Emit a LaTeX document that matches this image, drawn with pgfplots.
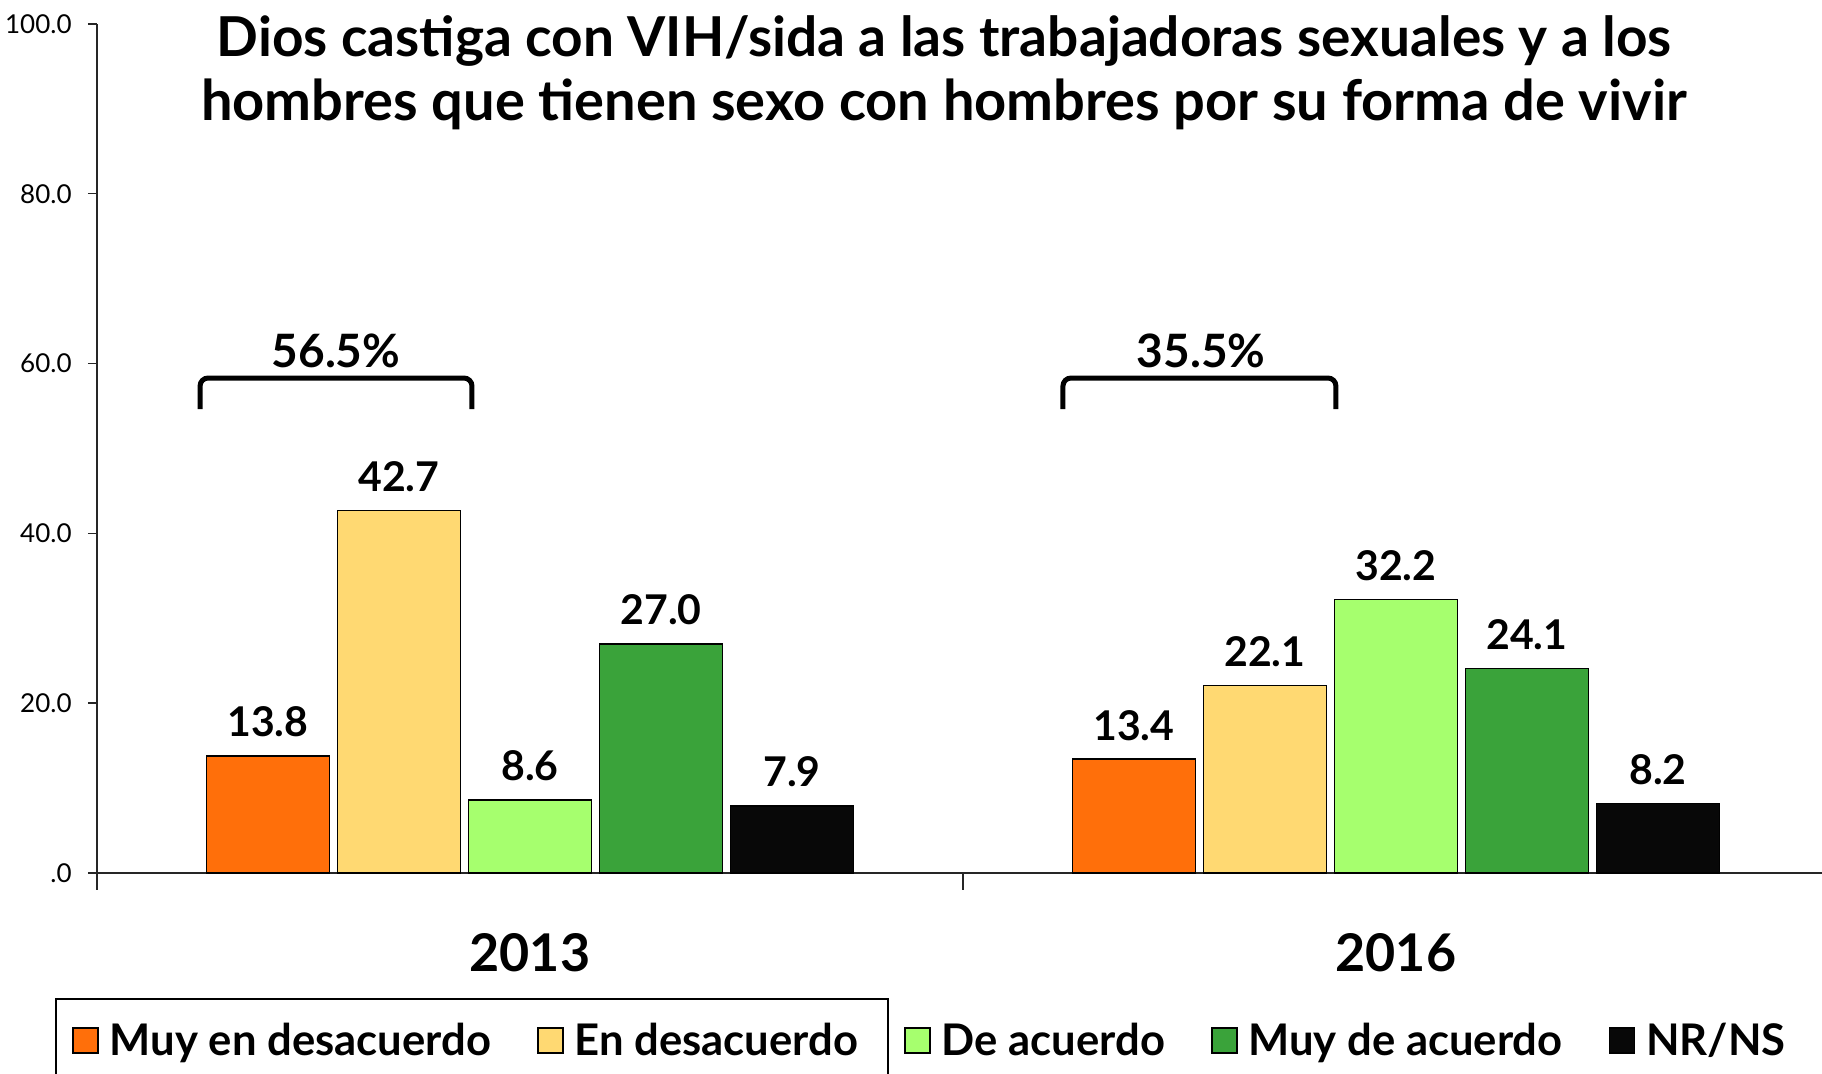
\documentclass[border=0pt]{standalone}
\usepackage{fontspec}
\setmainfont{Lato}
\usepackage{pgfplots}
\pgfplotsset{compat=1.18}
\definecolor{cA}{RGB}{255,111,10}
\definecolor{cB}{RGB}{255,217,114}
\definecolor{cC}{RGB}{166,255,110}
\definecolor{cD}{RGB}{58,163,58}
\definecolor{cE}{RGB}{8,8,8}
\begin{document}
\begin{tikzpicture}
\path[use as bounding box] (-48.5pt,-100.5pt) rectangle (862.5pt,436.5pt);
\begin{axis}[
  at={(0pt,0pt)}, anchor=south west,
  width=862.5pt, height=424.5pt, scale only axis,
  xmin=-0.5, xmax=1.492, ymin=0, ymax=100,
  axis x line*=bottom, axis y line*=left,
  axis line style={line width=0.7pt, black!85},
  /pgf/number format/assume math mode=true,
  ytick={0,20,40,60,80,100},
  yticklabels={.0,20.0,40.0,60.0,80.0,100.0},
  yticklabel style={font=\fontsize{13}{13}\selectfont, inner sep=0pt, xshift=-8pt},
  xtick={-0.5,0.5,1.5}, xticklabels={},
  tick align=outside, major tick length=4.5pt,
  xtick style={/pgfplots/major tick length=8.5pt},
  tick style={line width=0.7pt, black!85},
  ybar, bar width=0.142,
  clip=false,
  nodes near coords={\pgfmathprintnumber[fixed,fixed zerofill,precision=1,assume math mode=true]{\pgfplotspointmeta}},
  every node near coord/.append style={font=\bfseries\fontsize{20.5}{20.5}\selectfont, anchor=center, yshift=17pt, text=black},
  legend columns=5,
  legend image code/.code={\draw[#1,draw=black,line width=0.8pt] (0pt,-6pt) rectangle (12.5pt,6.5pt);},
  legend style={draw=none, fill=none, font=\bfseries\fontsize{21.8}{21.8}\selectfont,
    at={(axis description cs:-0.0145,-0.1979)}, anchor=west, inner sep=0pt,
    /tikz/every odd column/.append style={column sep=3.5pt},
    /tikz/every even column/.append style={column sep=21pt}},
]
\addplot[fill=cA, draw=black, line width=0.8pt, bar shift=-0.3026] coordinates {(0,13.8) (1,13.4)};
\addplot[fill=cB, draw=black, line width=0.8pt, bar shift=-0.1513] coordinates {(0,42.7) (1,22.1)};
\addplot[fill=cC, draw=black, line width=0.8pt, bar shift=0] coordinates {(0,8.6) (1,32.2)};
\addplot[fill=cD, draw=black, line width=0.8pt, bar shift=0.1513] coordinates {(0,27.0) (1,24.1)};
\addplot[fill=cE, draw=black, line width=0.8pt, bar shift=0.3026] coordinates {(0,7.9) (1,8.2)};
\legend{Muy en desacuerdo, En desacuerdo, De acuerdo, Muy de acuerdo, NR/NS}
% title
\node[font=\bfseries\fontsize{27.5}{27.5}\selectfont] at (axis cs:0.478,98.0) {Dios castiga con VIH/sida a las trabajadoras sexuales y a los};
\node[font=\bfseries\fontsize{28}{28}\selectfont] at (axis cs:0.478,90.5) {hombres que tienen sexo con hombres por su forma de vivir};
% year labels
\node[font=\bfseries\fontsize{26}{26}\selectfont] at (axis cs:0,-9.42) {2013};
\node[font=\bfseries\fontsize{26}{26}\selectfont] at (axis cs:1,-9.42) {2016};
% brackets
\draw[line width=2.5pt, rounded corners=4pt] (axis cs:-0.381,54.65) -- (axis cs:-0.381,58.3) -- (axis cs:-0.067,58.3) -- (axis cs:-0.067,54.65);
\draw[line width=2.5pt, rounded corners=4pt] (axis cs:0.6155,54.65) -- (axis cs:0.6155,58.3) -- (axis cs:0.9307,58.3) -- (axis cs:0.9307,54.65);
\node[font=\bfseries\fontsize{23}{23}\selectfont] at (axis cs:-0.224,61.5) {56.5\%};
\node[font=\bfseries\fontsize{23}{23}\selectfont] at (axis cs:0.775,61.5) {35.5\%};
\end{axis}
\draw[line width=1pt] (-20.5pt,-115pt) -- (-20.5pt,-63pt) -- (395.5pt,-63pt) -- (395.5pt,-115pt);
\end{tikzpicture}
\end{document}
